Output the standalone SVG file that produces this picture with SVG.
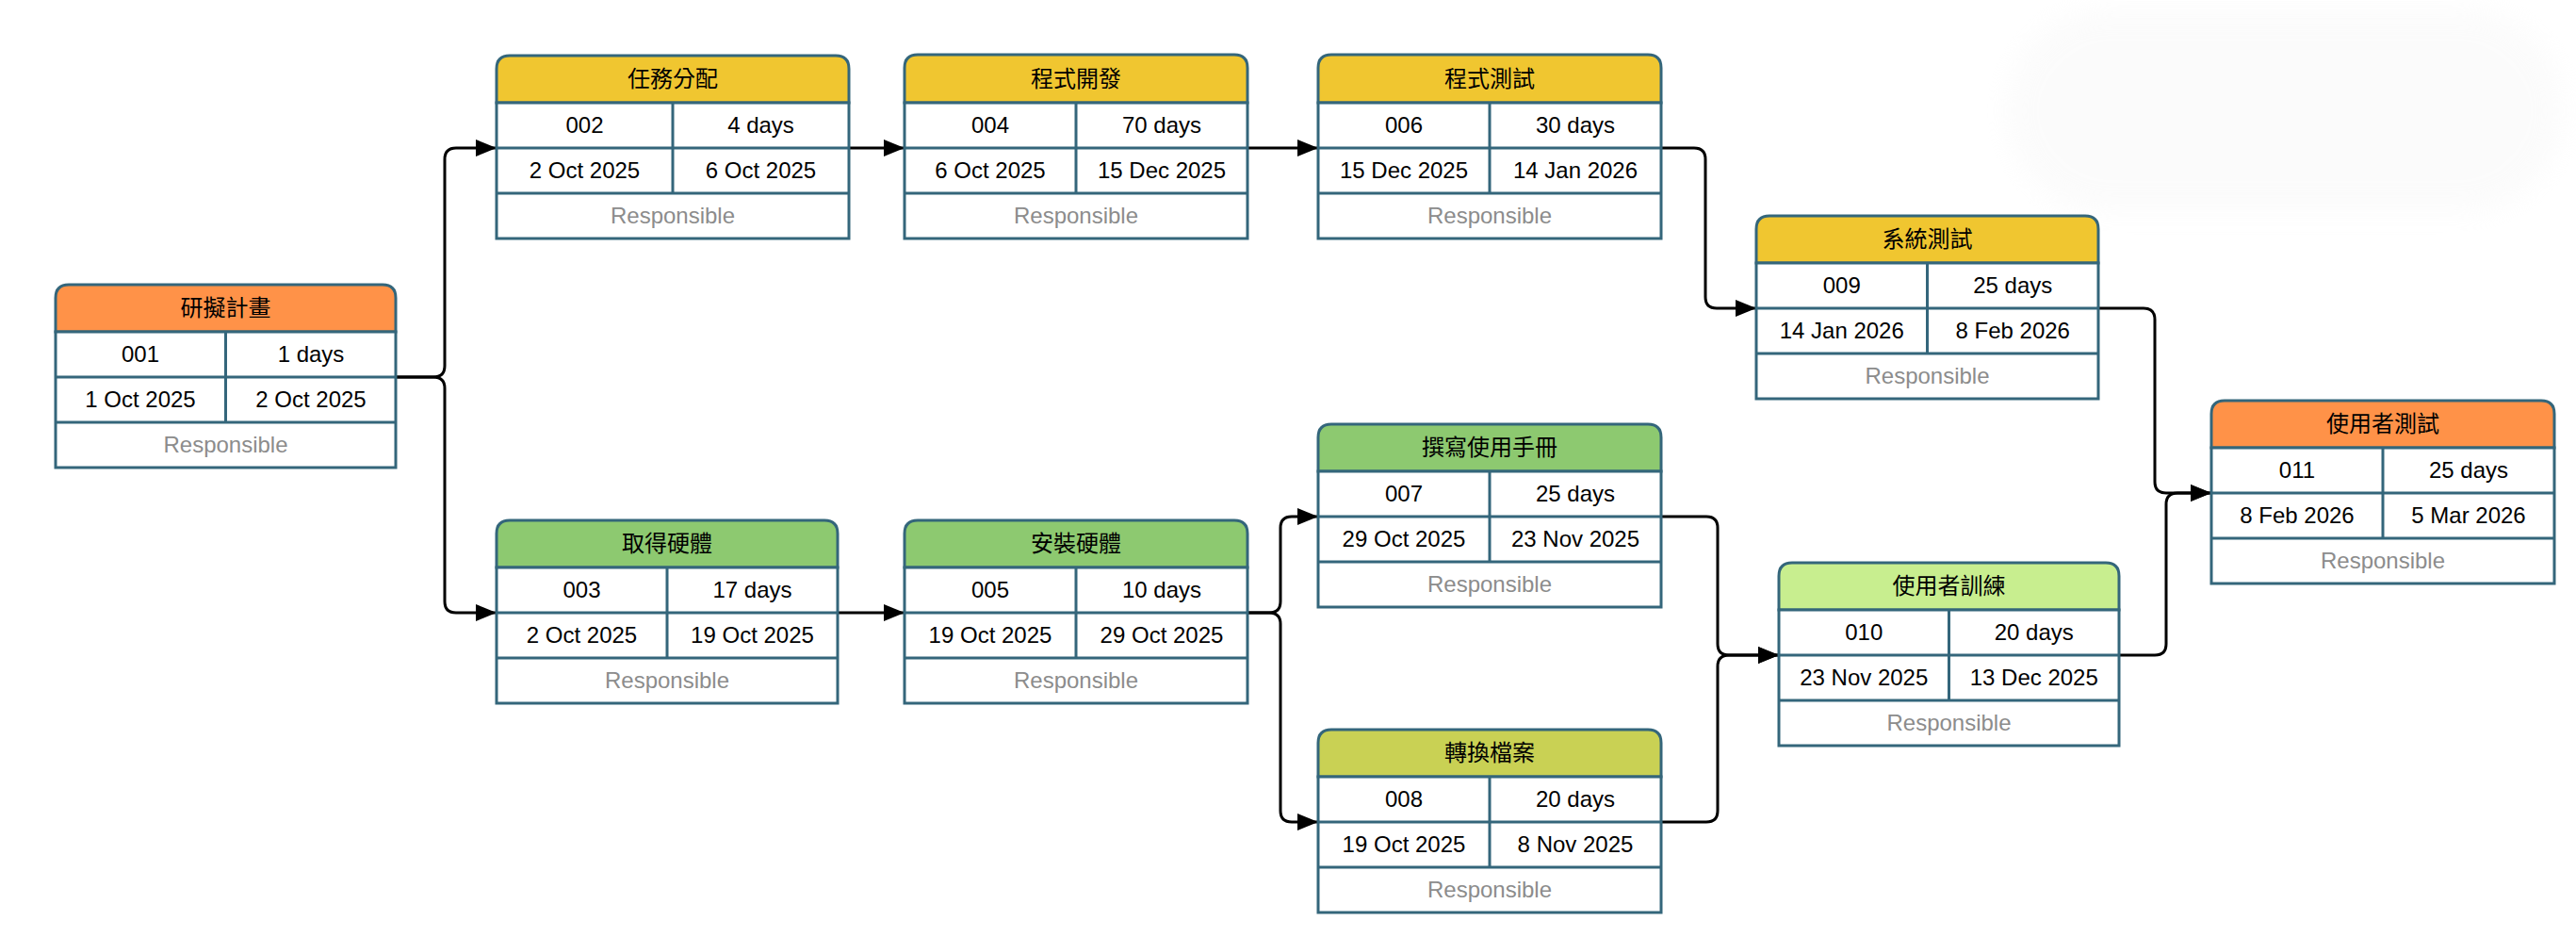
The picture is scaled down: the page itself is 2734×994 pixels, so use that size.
<svg xmlns="http://www.w3.org/2000/svg" width="2734" height="994" viewBox="0 0 2734 994">
<style>
.hd{stroke:#34667B;stroke-width:3}
.bd{fill:#FFFFFF;stroke:#34667B;stroke-width:3}
.ln{stroke:#34667B;stroke-width:3;fill:none}
.or{fill:#FF9248}
.ye{fill:#F0C630}
.gr{fill:#8DC970}
.lg{fill:#C8EE8F}
.yg{fill:#C9D154}
.t{font-family:"Liberation Sans",Arial,sans-serif;font-size:24px;fill:#000;text-anchor:middle}
.h{font-family:"Liberation Sans","Noto Sans CJK TC",sans-serif;font-size:24px;fill:#000;text-anchor:middle}
.r{font-family:"Liberation Sans",Arial,sans-serif;font-size:24px;fill:#8C8C8C;text-anchor:middle}
.c{fill:none;stroke:#000;stroke-width:3;marker-end:url(#arr)}
</style>
<defs>
<marker id="arr" markerWidth="22" markerHeight="18" refX="22" refY="9" orient="auto" markerUnits="userSpaceOnUse"><path d="M0,0 L22,9 L0,18 Z" fill="#000"/></marker>
<filter id="blur" x="-20%" y="-40%" width="140%" height="180%"><feGaussianBlur stdDeviation="14"/></filter>
</defs>
<rect width="2734" height="994" fill="#FFFFFF"/>
<rect x="2130" y="10" width="590" height="215" rx="107" fill="#F3F3F3" opacity="0.3" filter="url(#blur)"/>

<g id="connectors">
<path class="c" d="M420,400 H460 Q472,400 472,388 V169 Q472,157 484,157 H527"/>
<path class="c" d="M420,400 H460 Q472,400 472,412 V638 Q472,650 484,650 H527"/>
<path class="c" d="M901,157 H960"/>
<path class="c" d="M1324,157 H1399"/>
<path class="c" d="M1763,157 H1798 Q1810,157 1810,169 V315 Q1810,327 1822,327 H1864"/>
<path class="c" d="M2227,327 H2275 Q2287,327 2287,339 V511 Q2287,523 2299,523 H2347"/>
<path class="c" d="M889,650 H960"/>
<path class="c" d="M1324,650 H1347 Q1359,650 1359,638 V560 Q1359,548 1371,548 H1399"/>
<path class="c" d="M1324,650 H1347 Q1359,650 1359,662 V860 Q1359,872 1371,872 H1399"/>
<path class="c" d="M1763,548 H1811 Q1823,548 1823,560 V683 Q1823,695 1835,695 H1888"/>
<path class="c" d="M1763,872 H1811 Q1823,872 1823,860 V707 Q1823,695 1835,695 H1888"/>
<path class="c" d="M2249,695 H2287 Q2299,695 2299,683 V535 Q2299,523 2311,523 H2347"/>
</g>

<!-- 001 -->
<g id="n001">
<path class="hd or" d="M59,352 V316 Q59,302 73,302 H406 Q420,302 420,316 V352 Z"/>
<rect class="bd" x="59" y="352" width="361" height="144"/>
<path class="ln" d="M59,400 H420 M59,448 H420 M239.5,352 V448"/>
<text class="h" x="239.5" y="335">研擬計畫</text>
<text class="t" x="149" y="384">001</text>
<text class="t" x="330" y="384">1 days</text>
<text class="t" x="149" y="432">1 Oct 2025</text>
<text class="t" x="330" y="432">2 Oct 2025</text>
<text class="r" x="239.5" y="480">Responsible</text>
</g>

<!-- 002 -->
<g id="n002">
<path class="hd ye" d="M527,109 V73 Q527,59 541,59 H887 Q901,59 901,73 V109 Z"/>
<rect class="bd" x="527" y="109" width="374" height="144"/>
<path class="ln" d="M527,157 H901 M527,205 H901 M714,109 V205"/>
<text class="h" x="714" y="92">任務分配</text>
<text class="t" x="620.5" y="141">002</text>
<text class="t" x="807.5" y="141">4 days</text>
<text class="t" x="620.5" y="189">2 Oct 2025</text>
<text class="t" x="807.5" y="189">6 Oct 2025</text>
<text class="r" x="714" y="237">Responsible</text>
</g>

<!-- 004 -->
<g id="n004">
<path class="hd ye" d="M960,109 V72 Q960,58 974,58 H1310 Q1324,58 1324,72 V109 Z"/>
<rect class="bd" x="960" y="109" width="364" height="144"/>
<path class="ln" d="M960,157 H1324 M960,205 H1324 M1142,109 V205"/>
<text class="h" x="1142" y="92">程式開發</text>
<text class="t" x="1051" y="141">004</text>
<text class="t" x="1233" y="141">70 days</text>
<text class="t" x="1051" y="189">6 Oct 2025</text>
<text class="t" x="1233" y="189">15 Dec 2025</text>
<text class="r" x="1142" y="237">Responsible</text>
</g>

<!-- 006 -->
<g id="n006">
<path class="hd ye" d="M1399,109 V72 Q1399,58 1413,58 H1749 Q1763,58 1763,72 V109 Z"/>
<rect class="bd" x="1399" y="109" width="364" height="144"/>
<path class="ln" d="M1399,157 H1763 M1399,205 H1763 M1581,109 V205"/>
<text class="h" x="1581" y="92">程式測試</text>
<text class="t" x="1490" y="141">006</text>
<text class="t" x="1672" y="141">30 days</text>
<text class="t" x="1490" y="189">15 Dec 2025</text>
<text class="t" x="1672" y="189">14 Jan 2026</text>
<text class="r" x="1581" y="237">Responsible</text>
</g>

<!-- 009 -->
<g id="n009">
<path class="hd ye" d="M1864,279 V243 Q1864,229 1878,229 H2213 Q2227,229 2227,243 V279 Z"/>
<rect class="bd" x="1864" y="279" width="363" height="144"/>
<path class="ln" d="M1864,327 H2227 M1864,375 H2227 M2045.5,279 V375"/>
<text class="h" x="2045.5" y="262">系統測試</text>
<text class="t" x="1954.75" y="311">009</text>
<text class="t" x="2136.25" y="311">25 days</text>
<text class="t" x="1954.75" y="359">14 Jan 2026</text>
<text class="t" x="2136.25" y="359">8 Feb 2026</text>
<text class="r" x="2045.5" y="407">Responsible</text>
</g>

<!-- 011 -->
<g id="n011">
<path class="hd or" d="M2347,475 V439 Q2347,425 2361,425 H2697 Q2711,425 2711,439 V475 Z"/>
<rect class="bd" x="2347" y="475" width="364" height="144"/>
<path class="ln" d="M2347,523 H2711 M2347,571 H2711 M2529,475 V571"/>
<text class="h" x="2529" y="458">使用者測試</text>
<text class="t" x="2438" y="507">011</text>
<text class="t" x="2620" y="507">25 days</text>
<text class="t" x="2438" y="555">8 Feb 2026</text>
<text class="t" x="2620" y="555">5 Mar 2026</text>
<text class="r" x="2529" y="603">Responsible</text>
</g>

<!-- 003 -->
<g id="n003">
<path class="hd gr" d="M527,602 V566 Q527,552 541,552 H875 Q889,552 889,566 V602 Z"/>
<rect class="bd" x="527" y="602" width="362" height="144"/>
<path class="ln" d="M527,650 H889 M527,698 H889 M708,602 V698"/>
<text class="h" x="708" y="585">取得硬體</text>
<text class="t" x="617.5" y="634">003</text>
<text class="t" x="798.5" y="634">17 days</text>
<text class="t" x="617.5" y="682">2 Oct 2025</text>
<text class="t" x="798.5" y="682">19 Oct 2025</text>
<text class="r" x="708" y="730">Responsible</text>
</g>

<!-- 005 -->
<g id="n005">
<path class="hd gr" d="M960,602 V566 Q960,552 974,552 H1310 Q1324,552 1324,566 V602 Z"/>
<rect class="bd" x="960" y="602" width="364" height="144"/>
<path class="ln" d="M960,650 H1324 M960,698 H1324 M1142,602 V698"/>
<text class="h" x="1142" y="585">安裝硬體</text>
<text class="t" x="1051" y="634">005</text>
<text class="t" x="1233" y="634">10 days</text>
<text class="t" x="1051" y="682">19 Oct 2025</text>
<text class="t" x="1233" y="682">29 Oct 2025</text>
<text class="r" x="1142" y="730">Responsible</text>
</g>

<!-- 007 -->
<g id="n007">
<path class="hd gr" d="M1399,500 V464 Q1399,450 1413,450 H1749 Q1763,450 1763,464 V500 Z"/>
<rect class="bd" x="1399" y="500" width="364" height="144"/>
<path class="ln" d="M1399,548 H1763 M1399,596 H1763 M1581,500 V596"/>
<text class="h" x="1581" y="483">撰寫使用手冊</text>
<text class="t" x="1490" y="532">007</text>
<text class="t" x="1672" y="532">25 days</text>
<text class="t" x="1490" y="580">29 Oct 2025</text>
<text class="t" x="1672" y="580">23 Nov 2025</text>
<text class="r" x="1581" y="628">Responsible</text>
</g>

<!-- 008 -->
<g id="n008">
<path class="hd yg" d="M1399,824 V788 Q1399,774 1413,774 H1749 Q1763,774 1763,788 V824 Z"/>
<rect class="bd" x="1399" y="824" width="364" height="144"/>
<path class="ln" d="M1399,872 H1763 M1399,920 H1763 M1581,824 V920"/>
<text class="h" x="1581" y="807">轉換檔案</text>
<text class="t" x="1490" y="856">008</text>
<text class="t" x="1672" y="856">20 days</text>
<text class="t" x="1490" y="904">19 Oct 2025</text>
<text class="t" x="1672" y="904">8 Nov 2025</text>
<text class="r" x="1581" y="952">Responsible</text>
</g>

<!-- 010 -->
<g id="n010">
<path class="hd lg" d="M1888,647 V611 Q1888,597 1902,597 H2235 Q2249,597 2249,611 V647 Z"/>
<rect class="bd" x="1888" y="647" width="361" height="144"/>
<path class="ln" d="M1888,695 H2249 M1888,743 H2249 M2068.5,647 V743"/>
<text class="h" x="2068.5" y="630">使用者訓練</text>
<text class="t" x="1978.25" y="679">010</text>
<text class="t" x="2158.75" y="679">20 days</text>
<text class="t" x="1978.25" y="727">23 Nov 2025</text>
<text class="t" x="2158.75" y="727">13 Dec 2025</text>
<text class="r" x="2068.5" y="775">Responsible</text>
</g>
</svg>
